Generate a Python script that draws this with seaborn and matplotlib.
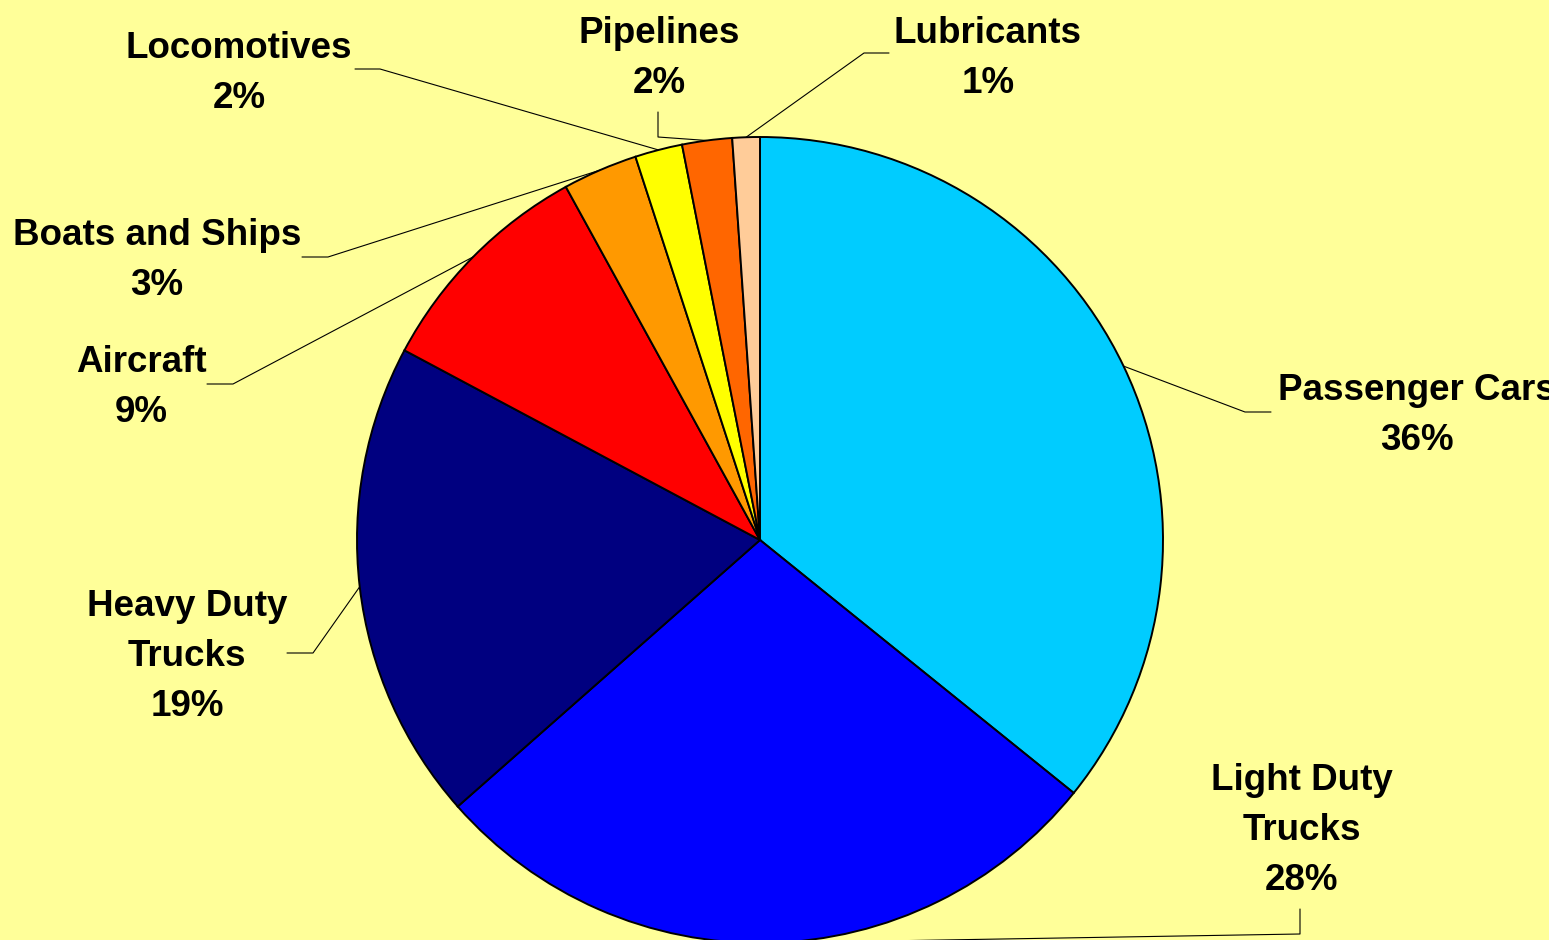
import numpy as np
import seaborn as sns
import matplotlib.pyplot as plt

# dados (participação % no consumo de energia do transporte)
categories = ["Passenger Cars", "Light Duty\nTrucks", "Heavy Duty\nTrucks", "Aircraft",
              "Boats and Ships", "Locomotives", "Pipelines", "Lubricants"]
shares = [35.8, 27.7, 19.3, 9.2, 3.0, 1.9, 2.0, 1.1]
colors = ["#00CCFF", "#0000FF", "#000080", "#FF0000",
          "#FF9900", "#FFFF00", "#FF6600", "#FFCC99"]

sns.set_style("white")
plt.rcParams['font.family'] = ['Liberation Sans', 'DejaVu Sans']

W, H = 1549, 940
cx, cy, R = 760, 540, 403  # centro e raio da pizza em pixels


def px(x, y):
    # pixel (origem no topo) -> coordenadas de dados
    return (x - cx) / R, (cy - y) / R


bg = "#FFFF99"
fig = plt.figure(figsize=(W / 100, H / 100), dpi=100, facecolor=bg)
ax = fig.add_axes([0, 0, 1, 1])
ax.set_facecolor(bg)

wedges, _ = ax.pie(shares, colors=sns.color_palette(colors), startangle=90,
                   counterclock=False, radius=1,
                   wedgeprops=dict(edgecolor="black", linewidth=1.4))

# posições dos rótulos e das linhas guia (pixels)
label_pos = [(1417, 415.5), (1302, 830.5), (187, 656.5), (141, 387.5),
             (157, 260.5), (239, 73.5), (659, 58.5), (988, 58.5)]
elbows = [[(1245, 412), (1271, 412)], [(1300, 934), (1300, 909)],
          [(313, 653), (287, 653)], [(233, 384), (207, 384)],
          [(328, 257), (302, 257)], [(380, 69), (355, 69)],
          [(658, 137), (658, 112)], [(864, 53), (889, 53)]]

for w, name, val, pos, elb in zip(wedges, categories, shares, label_pos, elbows):
    theta = np.deg2rad((w.theta1 + w.theta2) / 2)
    pts = [(np.cos(theta), np.sin(theta))] + [px(*p) for p in elb]
    xs, ys = zip(*pts)
    ax.plot(xs, ys, color="black", linewidth=0.8, zorder=0)
    tx, ty = px(*pos)
    ax.text(tx, ty, f"{name}\n{round(val):.0f}%", ha="center", va="center",
            fontsize=26.5, fontweight="bold", linespacing=1.55, color="black")

x0, _ = px(0, 0)
x1, _ = px(W, 0)
ax.set_xlim(x0, x1)
ax.set_ylim((cy - H) / R, cy / R)
ax.set_aspect("auto")
ax.axis("off")

plt.savefig("out.png", dpi=100, facecolor=bg)
